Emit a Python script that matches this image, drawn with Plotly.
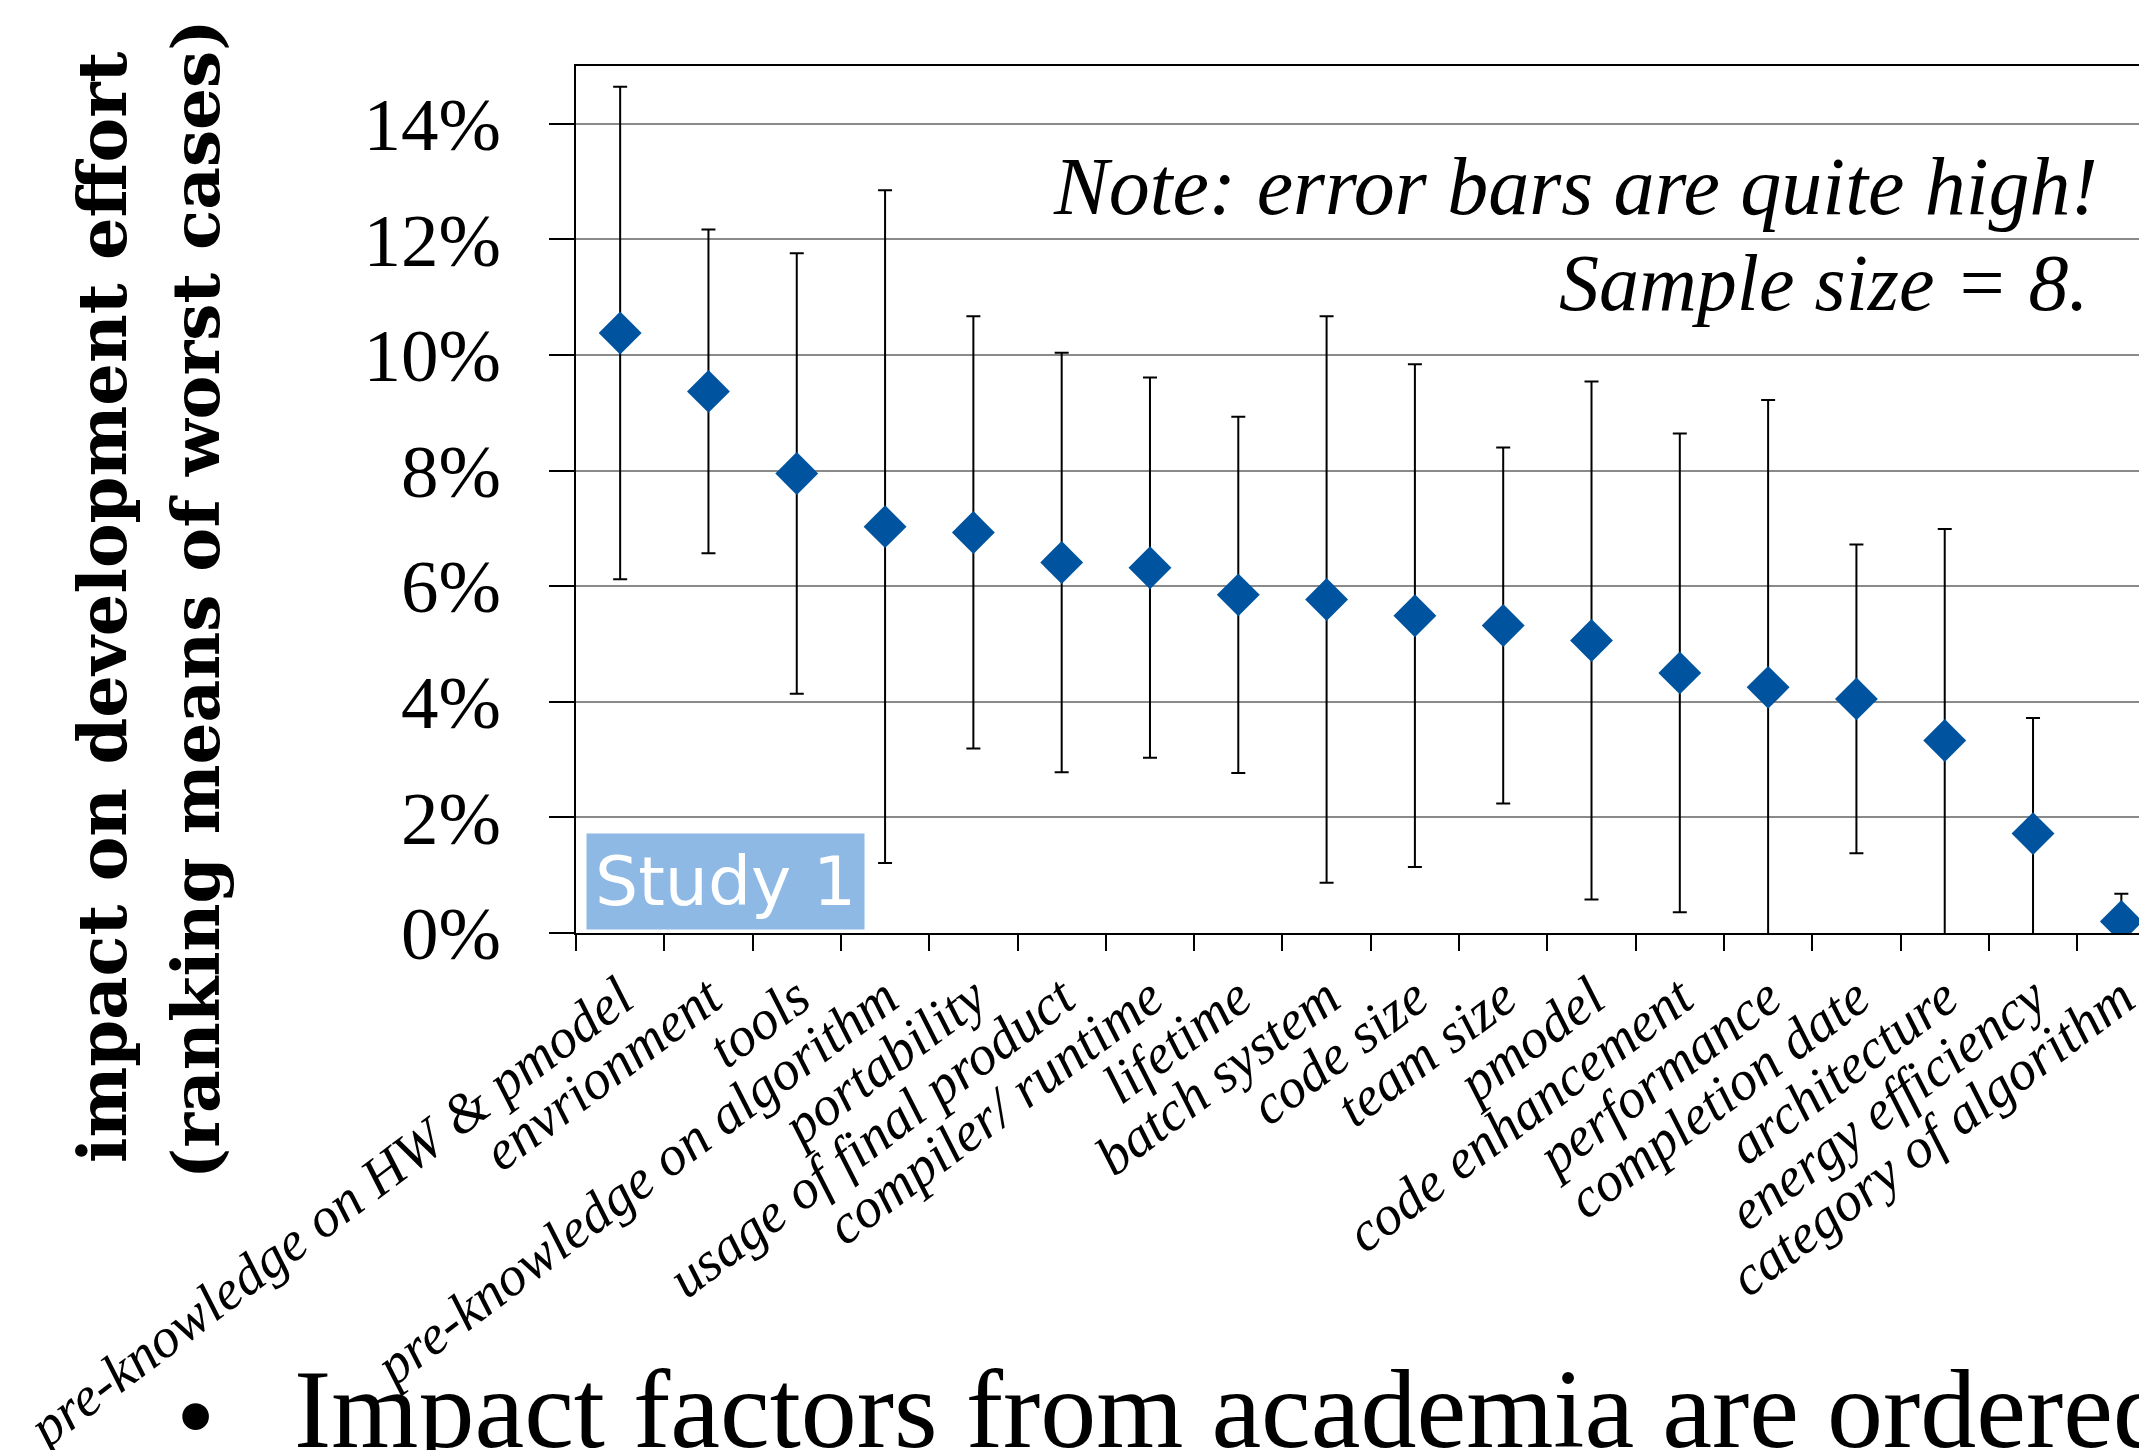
import plotly.graph_objects as go

categories = [
    "pre-knowledge on HW & pmodel", "envrionment", "tools",
    "pre-knowledge on algorithm", "portability", "usage of final product",
    "compiler/ runtime", "lifetime", "batch system", "code size", "team size",
    "pmodel", "code enhancement", "performance", "completion date",
    "architecture", "energy efficiency", "category of algorithm",
]
means = [10.38, 9.37, 7.95, 7.03, 6.93, 6.41, 6.32, 5.85, 5.77, 5.49, 5.32,
         5.06, 4.50, 4.25, 4.05, 3.33, 1.72, 0.20]
errors = [4.26, 2.80, 3.81, 5.82, 3.74, 3.63, 3.29, 3.08, 4.90, 4.35, 3.08,
          4.48, 4.14, 4.97, 2.67, 3.66, 2.00, 0.48]
y_ticks = [0, 2, 4, 6, 8, 10, 12, 14]
y_tick_labels = ["0%", "2%", "4%", "6%", "8%", "10%", "12%", "14%"]

W, H = 2139, 1450
L, R, T, B = 576, 0, 66, 517
PW, PH = W - L - R, H - T - B


def px(x):
    return (x - L) / PW


def py(y):
    return (H - B - y) / PH


fig = go.Figure()
fig.add_trace(go.Scatter(
    x=categories, y=means, mode="markers",
    marker=dict(symbol="diamond", size=33, color="#00549F", line=dict(width=0)),
    error_y=dict(type="data", array=errors, symmetric=True, color="black",
                 thickness=2, width=7),
    showlegend=False,
))

serif = "Liberation Serif"
fig.update_layout(
    width=W, height=H,
    margin=dict(l=L, r=R, t=T, b=B, pad=0, autoexpand=False),
    paper_bgcolor="white", plot_bgcolor="white",
    xaxis=dict(
        type="category", range=[-0.5, 17.2], tickson="boundaries",
        automargin=False,
        ticks="outside", ticklen=16, tickwidth=2, tickcolor="black",
        showline=True, linecolor="black", linewidth=2, mirror=True,
        showgrid=False, tickangle=-37,
        tickfont=dict(family=serif, size=56, color="black", style="italic"),
        ticklabelstandoff=8,
    ),
    yaxis=dict(
        range=[0, 15], tickvals=y_ticks, ticktext=y_tick_labels,
        automargin=False,
        ticks="outside", ticklen=25, tickwidth=2, tickcolor="black",
        showline=True, linecolor="black", linewidth=2,
        showgrid=True, gridcolor="#8a8a8a", gridwidth=1.5, zeroline=False,
        tickfont=dict(family=serif, size=75, color="black"),
        ticklabelstandoff=33,
    ),
    annotations=[
        dict(text="impact on development effort", textangle=-90,
             x=px(102), y=py(607), xref="paper", yref="paper",
             xanchor="center", yanchor="middle", showarrow=False,
             font=dict(family="DejaVu Serif", size=67, color="black", weight="bold")),
        dict(text="(ranking means of worst cases)", textangle=-90,
             x=px(196), y=py(600), xref="paper", yref="paper",
             xanchor="center", yanchor="middle", showarrow=False,
             font=dict(family="DejaVu Serif", size=66, color="black", weight="bold")),
        dict(text="Note: error bars are quite high!",
             x=px(2100), y=py(187), xref="paper", yref="paper",
             xanchor="right", yanchor="middle", showarrow=False,
             font=dict(family=serif, size=82, color="black", style="italic")),
        dict(text="Sample size = 8.",
             x=px(2091), y=py(283), xref="paper", yref="paper",
             xanchor="right", yanchor="middle", showarrow=False,
             font=dict(family=serif, size=80, color="black", style="italic")),
        dict(text="Study 1",
             x=px(725), y=py(881), xref="paper", yref="paper",
             xanchor="center", yanchor="middle", showarrow=False,
             bgcolor="#8DB9E4", borderpad=8,
             font=dict(family="DejaVu Sans", size=68, color="white")),
        dict(text="•",
             x=px(195), y=py(1416), xref="paper", yref="paper",
             xanchor="center", yanchor="middle", showarrow=False,
             font=dict(family=serif, size=112, color="black")),
        dict(text="Impact factors from academia are ordered",
             x=px(292), y=py(1409), xref="paper", yref="paper",
             xanchor="left", yanchor="middle", showarrow=False,
             font=dict(family=serif, size=112, color="black")),
    ],
)

fig.write_html(
    "out.html",
    config={"displayModeBar": False},
    post_script="document.body.style.margin='0';document.body.style.overflow='hidden';",
)
